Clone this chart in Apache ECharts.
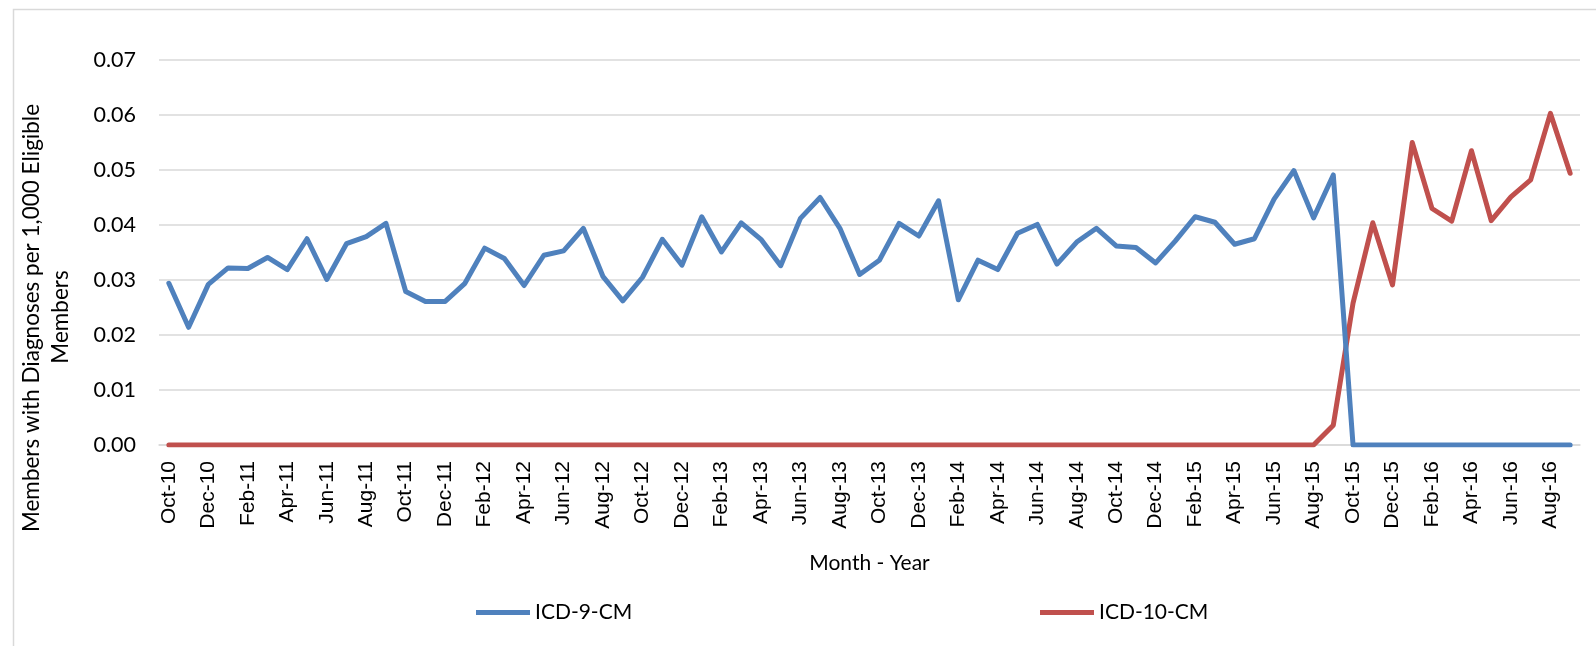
<!DOCTYPE html>
<html>
<head>
<meta charset="utf-8">
<script src="https://cdn.jsdelivr.net/npm/echarts@6/dist/echarts.min.js"></script>
<style>
html,body{margin:0;padding:0;background:#fff;}
#chart{width:1596px;height:646px;}
</style>
</head>
<body>
<div id="chart"></div>
<script>
const categories = [
 "Oct-10","Nov-10","Dec-10","Jan-11","Feb-11","Mar-11","Apr-11","May-11","Jun-11","Jul-11","Aug-11","Sep-11",
 "Oct-11","Nov-11","Dec-11","Jan-12","Feb-12","Mar-12","Apr-12","May-12","Jun-12","Jul-12","Aug-12","Sep-12",
 "Oct-12","Nov-12","Dec-12","Jan-13","Feb-13","Mar-13","Apr-13","May-13","Jun-13","Jul-13","Aug-13","Sep-13",
 "Oct-13","Nov-13","Dec-13","Jan-14","Feb-14","Mar-14","Apr-14","May-14","Jun-14","Jul-14","Aug-14","Sep-14",
 "Oct-14","Nov-14","Dec-14","Jan-15","Feb-15","Mar-15","Apr-15","May-15","Jun-15","Jul-15","Aug-15","Sep-15",
 "Oct-15","Nov-15","Dec-15","Jan-16","Feb-16","Mar-16","Apr-16","May-16","Jun-16","Jul-16","Aug-16","Sep-16"
];
const icd9 = [
 0.0294,0.0214,0.0292,0.0322,0.0321,0.0341,0.0319,0.0375,0.0301,0.0366,0.0379,0.0403,
 0.0279,0.0261,0.0261,0.0294,0.0358,0.0339,0.0290,0.0345,0.0353,0.0394,0.0306,0.0262,
 0.0305,0.0374,0.0327,0.0415,0.0351,0.0404,0.0374,0.0326,0.0412,0.0450,0.0394,0.0310,
 0.0336,0.0403,0.0380,0.0444,0.0264,0.0336,0.0319,0.0385,0.0401,0.0329,0.0369,0.0394,
 0.0362,0.0359,0.0331,0.0371,0.0415,0.0405,0.0365,0.0375,0.0447,0.0499,0.0413,0.0491,
 0,0,0,0,0,0,0,0,0,0,0,0
];
const icd10 = [
 0,0,0,0,0,0,0,0,0,0,0,0,
 0,0,0,0,0,0,0,0,0,0,0,0,
 0,0,0,0,0,0,0,0,0,0,0,0,
 0,0,0,0,0,0,0,0,0,0,0,0,
 0,0,0,0,0,0,0,0,0,0,0,0.0036,
 0.0258,0.0404,0.0291,0.0550,0.0430,0.0407,0.0535,0.0408,0.0451,0.0482,0.0603,0.0494
];
const seriesNames = ["ICD-9-CM","ICD-10-CM"];
const yTicks = { min: 0, max: 0.07, interval: 0.01 };
const yTitleLines = ["Members with Diagnoses per 1,000 Eligible","Members"];
const xTitle = "Month - Year";

const chart = echarts.init(document.getElementById('chart'), null, {renderer:'canvas'});
const txtFont = 'Lato, "Open Sans", sans-serif';
const option = {
  animation: false,
  backgroundColor: '#fff',
  grid: { left: 159, right: 16, top: 60, bottom: 201, containLabel: false },
  graphic: [
    { type: 'rect', left: 11, top: 7, silent: true,
      shape: { width: 1700, height: 800 },
      style: { fill: 'none', stroke: '#D9D9D9', lineWidth: 1.5 } },
    { type: 'text', x: 32, y: 318, rotation: Math.PI/2,
      style: { text: yTitleLines[0], font: '22.5px ' + txtFont, fill: '#000', align: 'center', verticalAlign: 'middle' } },
    { type: 'text', x: 61, y: 317, rotation: Math.PI/2,
      style: { text: yTitleLines[1], font: '22.5px ' + txtFont, fill: '#000', align: 'center', verticalAlign: 'middle' } }
  ],
  legend: [
    { data: [seriesNames[0]], left: 476, top: 602, padding: 0, icon: 'rect', itemWidth: 54, itemHeight: 5, itemGap: 5,
      textStyle: { fontFamily: txtFont, fontSize: 21, color: '#000' } },
    { data: [seriesNames[1]], left: 1040, top: 602, padding: 0, icon: 'rect', itemWidth: 54, itemHeight: 5, itemGap: 5,
      textStyle: { fontFamily: txtFont, fontSize: 21, color: '#000' } }
  ],
  xAxis: {
    type: 'category', data: categories, boundaryGap: true,
    name: xTitle, nameLocation: 'middle', nameGap: 108,
    nameTextStyle: { fontFamily: txtFont, fontSize: 21, color: '#000' },
    axisLine: { show: true, lineStyle: { color: '#D9D9D9', width: 1.5 } },
    axisTick: { show: false },
    axisLabel: { interval: 1, rotate: 90, margin: 16, fontFamily: '"Liberation Sans", Arial, sans-serif', fontSize: 21, color: '#000' },
    splitLine: { show: false }
  },
  yAxis: {
    type: 'value', min: yTicks.min, max: yTicks.max, interval: yTicks.interval,
    axisLine: { show: false }, axisTick: { show: false },
    axisLabel: { margin: 23, fontFamily: txtFont, fontSize: 21.5, color: '#000', formatter: v => v.toFixed(2) },
    splitLine: { show: true, lineStyle: { color: '#D9D9D9', width: 1.5 } }
  },
  series: [
    { name: seriesNames[0], type: 'line', data: icd9, symbol: 'none', showSymbol: false,
      lineStyle: { color: '#4F81BD', width: 5, cap: 'round', join: 'round' }, itemStyle: { color: '#4F81BD' }, z: 3 },
    { name: seriesNames[1], type: 'line', data: icd10, symbol: 'none', showSymbol: false,
      lineStyle: { color: '#C0504D', width: 5, cap: 'round', join: 'round' }, itemStyle: { color: '#C0504D' }, z: 2 }
  ]
};
chart.setOption(option);
</script>
</body>
</html>
